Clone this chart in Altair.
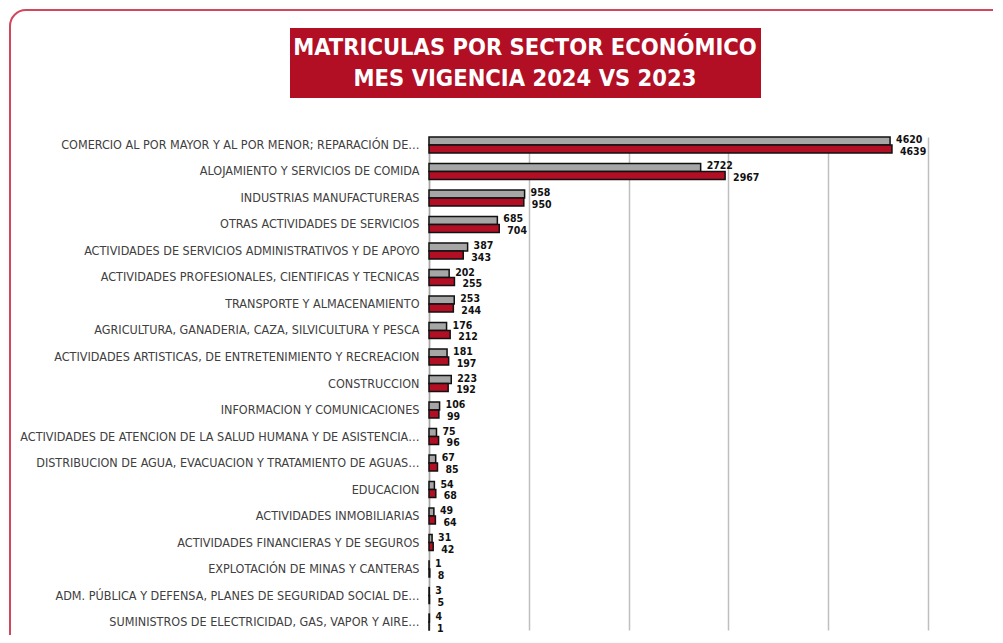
import altair as alt
import pandas as pd

sectores = [
    "COMERCIO AL POR MAYOR Y AL POR MENOR; REPARACIÓN DE…",
    "ALOJAMIENTO Y SERVICIOS DE COMIDA",
    "INDUSTRIAS MANUFACTURERAS",
    "OTRAS ACTIVIDADES DE SERVICIOS",
    "ACTIVIDADES DE SERVICIOS ADMINISTRATIVOS Y DE APOYO",
    "ACTIVIDADES PROFESIONALES, CIENTIFICAS Y TECNICAS",
    "TRANSPORTE Y ALMACENAMIENTO",
    "AGRICULTURA, GANADERIA, CAZA, SILVICULTURA Y PESCA",
    "ACTIVIDADES ARTISTICAS, DE ENTRETENIMIENTO Y RECREACION",
    "CONSTRUCCION",
    "INFORMACION Y COMUNICACIONES",
    "ACTIVIDADES DE ATENCION DE LA SALUD HUMANA Y DE ASISTENCIA…",
    "DISTRIBUCION DE AGUA, EVACUACION Y TRATAMIENTO DE AGUAS…",
    "EDUCACION",
    "ACTIVIDADES INMOBILIARIAS",
    "ACTIVIDADES FINANCIERAS Y DE SEGUROS",
    "EXPLOTACIÓN DE MINAS Y CANTERAS",
    "ADM. PÚBLICA Y DEFENSA, PLANES DE SEGURIDAD SOCIAL DE…",
    "SUMINISTROS DE ELECTRICIDAD, GAS, VAPOR Y AIRE…",
]
serie_gris = [4620, 2722, 958, 685, 387, 202, 253, 176, 181, 223, 106, 75, 67, 54, 49, 31, 1, 3, 4]
serie_roja = [4639, 2967, 950, 704, 343, 255, 244, 212, 197, 192, 99, 96, 85, 68, 64, 42, 8, 5, 1]
series = ["2023", "2024"]
titulo = ["MATRICULAS POR SECTOR ECONÓMICO", "MES VIGENCIA 2024 VS 2023"]

rows = []
for s, g, r in zip(sectores, serie_gris, serie_roja):
    rows.append({"sector": s, "serie": series[0], "valor": g})
    rows.append({"sector": s, "serie": series[1], "valor": r})
df = pd.DataFrame(rows)

RED = "#B20E24"
GRAY = "#A6A6A6"
NARROW = "Liberation Sans Narrow, Arial Narrow, DejaVu Sans Condensed, sans-serif"

y_enc = alt.Y("sector:N", sort=sectores,
              scale=alt.Scale(paddingInner=0.4, paddingOuter=0),
              axis=alt.Axis(title=None, ticks=False, labelFont=NARROW, labelFontSize=12.5,
                            labelColor="#404040", labelPadding=10, labelLimit=600,
                            domainColor="#A6A6A6", domainWidth=1.5, grid=False))
yoff = alt.YOffset("serie:N", sort=series)
x_enc = alt.X("valor:Q", scale=alt.Scale(domain=[0, 5000], nice=False),
              axis=alt.Axis(title=None, labels=False, ticks=False, domain=False,
                            grid=True, values=[0, 1000, 2000, 3000, 4000, 5000],
                            gridColor="#BFBFBF", gridWidth=1.5))

bars = alt.Chart(df).mark_bar(stroke="#111111", strokeWidth=1.5).encode(
    y=y_enc, yOffset=yoff, x=x_enc,
    color=alt.Color("serie:N", scale=alt.Scale(domain=series, range=[GRAY, RED]), legend=None),
)

lab_g = alt.Chart(df).transform_filter(alt.datum.serie == series[0]).mark_text(
    align="left", baseline="middle", dx=6, dy=-1, font=NARROW, fontSize=10.5,
    fontWeight="bold", color="#111111"
).encode(y=alt.Y("sector:N", sort=sectores), yOffset=yoff, x="valor:Q", text="valor:Q")

lab_r = alt.Chart(df).transform_filter(alt.datum.serie == series[1]).mark_text(
    align="left", baseline="middle", dx=8, dy=3, font=NARROW, fontSize=10.5,
    fontWeight="bold", color="#111111"
).encode(y=alt.Y("sector:N", sort=sectores), yOffset=yoff, x="valor:Q", text="valor:Q")

one = alt.Data(values=[{"k": 0}])

border = alt.Chart(one).mark_rect(
    fill="transparent", stroke="#D2475C", strokeWidth=2, cornerRadius=16
).encode(x=alt.value(-419), x2=alt.value(600), y=alt.value(-127), y2=alt.value(515))

title_box = alt.Chart(one).mark_rect(fill=RED).encode(
    x=alt.value(-139), x2=alt.value(332), y=alt.value(-109), y2=alt.value(-39))

t1 = alt.Chart(one).mark_text(
    text=titulo[0], color="white", font=NARROW, fontSize=23.5, fontWeight="bold",
    align="center", baseline="middle"
).encode(x=alt.value(96), y=alt.value(-89))
t2 = alt.Chart(one).mark_text(
    text=titulo[1], color="white", font=NARROW, fontSize=23.5, fontWeight="bold",
    align="center", baseline="middle"
).encode(x=alt.value(96), y=alt.value(-58))

chart = alt.layer(border, title_box, t1, t2, bars, lab_g, lab_r).properties(
    width=499, height=493,
    padding={"left": 421, "top": 129, "right": 65, "bottom": 5},
    autosize=alt.AutoSizeParams(type="none"),
    background="white",
).configure_view(stroke=None)

chart.save("out.html", embed_options={"renderer": "svg", "actions": False})
